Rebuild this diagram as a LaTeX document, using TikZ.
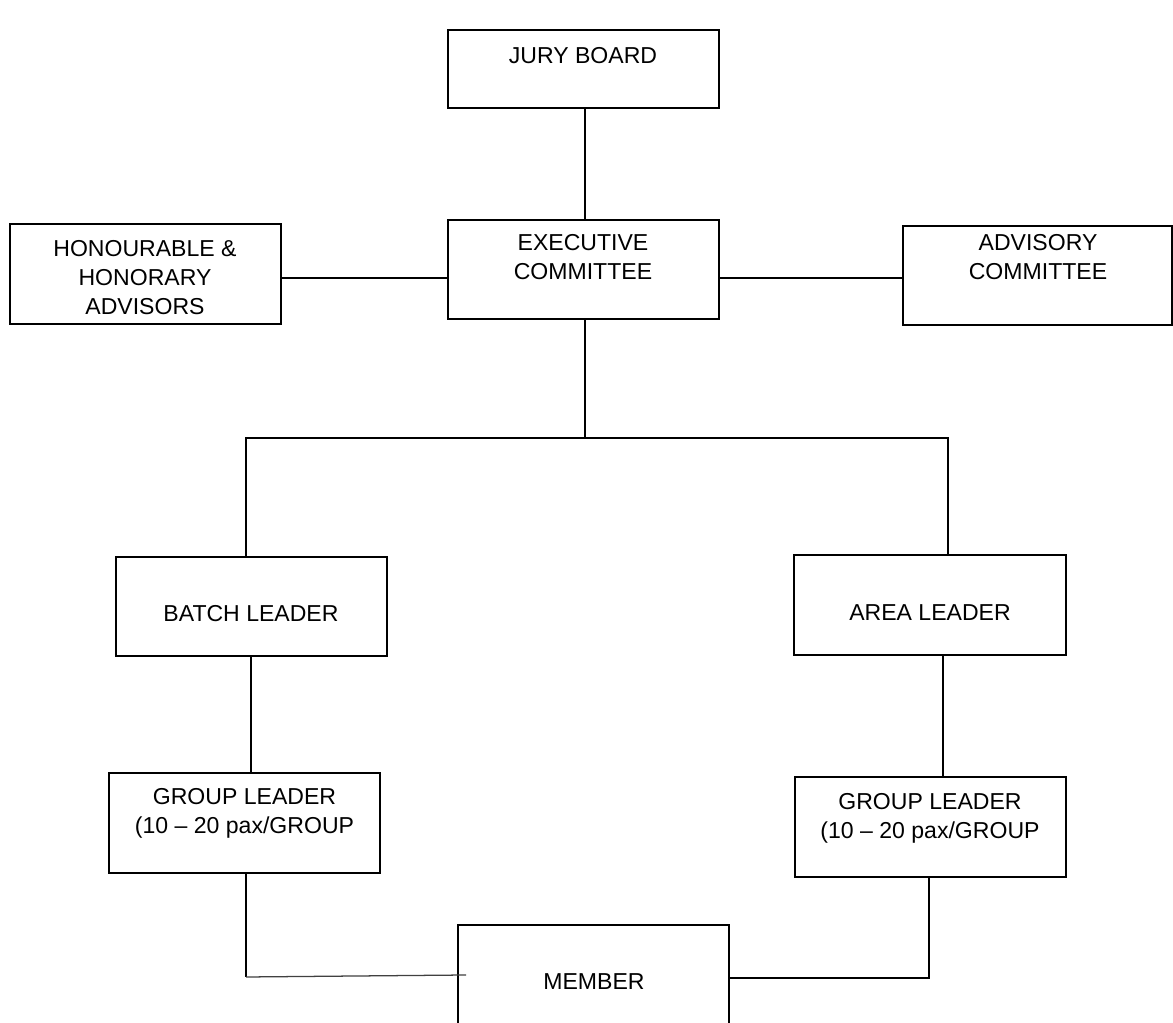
\documentclass[tikz,border=0pt]{standalone}
\usepackage{fontspec}
\setmainfont{Liberation Sans}
\usepackage{tikz}
\usetikzlibrary{calc}
\tikzset{
	box/.style={draw, line width=1.4pt, minimum width=6.775cm, minimum height=2.5cm, inner sep=0pt},
	txt/.style={align=center, inner sep=0pt, font=\fontsize{16.4}{20.6}\selectfont},
	link/.style={line width=1.4pt}
}

\begin{document}
\begin{tikzpicture}
			%%%%% START %%%%%
			\useasboundingbox[fill=white] (0, 0) rectangle (29.325, 25.575);
			
			\node[box, minimum height=1.95cm] (jury) at (14.5875, 23.85) {};
			\node[txt] (juryTxt) at (14.575, 24.175) {JURY BOARD};
			
			\node[box, minimum height=2.475cm] (exec) at (14.5875, 18.8375) {};
			\node[txt] (execTxt) at (14.575, 19.14) {EXECUTIVE\\COMMITTEE};
			
			\node[box] (hon) at (3.6375, 18.725) {};
			\node[txt] (honTxt) at (3.625, 18.625) {HONOURABLE \&\\HONORARY\\ADVISORS};
			
			\node[box, minimum width=6.725cm, minimum height=2.475cm] (adv) at (25.9375, 18.6875) {};
			\node[txt] (advTxt) at (25.95, 19.14) {ADVISORY\\COMMITTEE};
			
			\node[box, minimum height=2.475cm] (batch) at (6.2875, 10.4125) {};
			\node[txt] (batchTxt) at (6.275, 10.225) {BATCH LEADER};
			
			\node[box, minimum width=6.8cm] (area) at (23.25, 10.45) {};
			\node[txt] (areaTxt) at (23.25, 10.25) {AREA LEADER};
			
			\node[box] (groupL) at (6.1125, 5.0) {};
			\node[txt] (groupLTxt) at (6.1125, 5.25) {GROUP LEADER\\(10 – 20 pax/GROUP};
			
			\node[box] (groupR) at (23.2625, 4.9) {};
			\node[txt] (groupRTxt) at (23.25, 5.12) {GROUP LEADER\\(10 – 20 pax/GROUP};
			
			\node[box, minimum height=2.7cm] (member) at (14.8375, 1.1) {};
			\node[txt] (memberTxt) at (14.85, 1.025) {MEMBER};
			
			% tree lines
			\coordinate (busL) at (6.15, 14.625);
			\coordinate (busR) at (23.7, 14.625);
			\coordinate (lowL) at (6.15, 1.15);
			\coordinate (lowR) at (23.225, 1.125);
			
			\draw[link] (jury.south -| 14.625, 0) -- (exec.north -| 14.625, 0);
			\draw[link] (hon.east |- 0, 18.625) -- (exec.west |- 0, 18.625);
			\draw[link] (exec.east |- 0, 18.625) -- (adv.west |- 0, 18.625);
			\draw[link] (exec.south -| 14.625, 0) -- (busL -| 14.625, 0);
			\draw[link] (busL |- batch.north) -- (busL) -- (busR) -- (busR |- area.north);
			
			\draw[link] (batch.south -| 6.275, 0) -- (groupL.north -| 6.275, 0);
			\draw[link] (area.south -| 23.575, 0) -- (groupR.north -| 23.575, 0);
			
			\draw[link] (groupL.south -| lowL) -- (lowL);
			\draw[line width=0.9pt, color=black!75] (lowL) -- ($(member.west |- lowL) + (0.225, 0.05)$);
			\draw[link] (member.east |- lowR) -- (lowR) -- (lowR |- groupR.south);
			
			%%%%% END %%%%%
\end{tikzpicture}
\end{document}
